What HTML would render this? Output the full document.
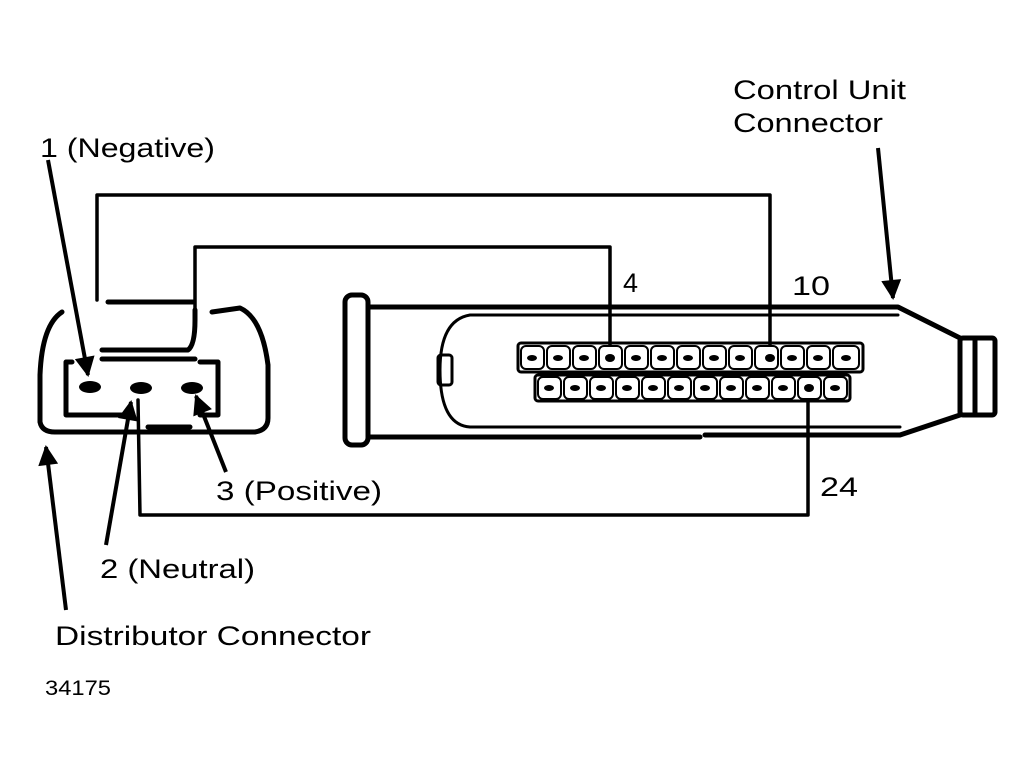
<!DOCTYPE html>
<html><head><style>html,body{margin:0;padding:0;background:#fff}svg{display:block}text{font-family:"Liberation Sans",sans-serif;fill:#000}</style></head>
<body>
<svg width="1036" height="766" viewBox="0 0 1036 766" xmlns="http://www.w3.org/2000/svg">
<defs><marker id="a" viewBox="0 0 10 10" refX="9" refY="5" markerWidth="6" markerHeight="5" orient="auto"><path d="M0,0L10,5L0,10z"/></marker></defs>
<g fill="none" stroke="#000" stroke-width="5" stroke-linecap="round" stroke-linejoin="round">
<path d="M62,312 Q42,325 40,375 L40,422 Q42,432 55,432 L255,432 Q268,430 268,418 L268,365 Q262,318 240,308 L212,312"/>
<path d="M108,302 L193,302"/>
<path d="M102,350 L188,350 Q195,345 195,320 L195,310"/>
<path d="M102,359 L195,359"/>
<path d="M72,362 L66,362 L66,415 L128,415"/>
<path d="M200,362 L218,362 L218,415 L200,415"/>
<path d="M148,427 L190,427"/>
<path d="M97,300 L97,195 L770,195 L770,348" stroke-width="3.5"/>
<path d="M195,310 L195,247 L610,247 L610,355" stroke-width="3.5"/>
<path d="M138,400 L140,515 L808,515 L808,392" stroke-width="3.5"/>
<rect x="345" y="295" width="23" height="150" rx="7"/>
<path d="M368,307 L898,307 L960,338"/>
<path d="M368,437 L700,437"/>
<path d="M705,435 L900,435 L960,415"/>
<rect x="960" y="338" width="35" height="77" rx="3"/>
<path d="M975,340 L975,413"/>
<path d="M470,315 L898,315 M470,315 Q440,320 440,370 Q440,425 470,427 L900,427" stroke-width="3"/>
<rect x="438" y="355" width="14" height="30" rx="3" stroke-width="3"/>
<rect x="518" y="343" width="345" height="29" rx="3" stroke-width="3"/>
<rect x="535" y="375" width="315" height="26" rx="3" stroke-width="3"/>
</g>
<g fill="#000">
<ellipse cx="90" cy="387" rx="11" ry="6"/><ellipse cx="141" cy="388" rx="11" ry="6"/><ellipse cx="192" cy="388" rx="11" ry="6"/>
</g>
<g fill="#fff" stroke="#000" stroke-width="2">
<rect x="521" y="346" width="23" height="23" rx="5"/><rect x="547" y="346" width="23" height="23" rx="5"/><rect x="573" y="346" width="23" height="23" rx="5"/><rect x="599" y="346" width="23" height="23" rx="5"/><rect x="625" y="346" width="23" height="23" rx="5"/><rect x="651" y="346" width="23" height="23" rx="5"/><rect x="677" y="346" width="23" height="23" rx="5"/><rect x="703" y="346" width="23" height="23" rx="5"/><rect x="729" y="346" width="23" height="23" rx="5"/><rect x="755" y="346" width="23" height="23" rx="5"/><rect x="781" y="346" width="23" height="23" rx="5"/><rect x="807" y="346" width="23" height="23" rx="5"/><rect x="833" y="346" width="26" height="23" rx="5"/>
<rect x="538" y="377" width="23" height="22" rx="5"/><rect x="564" y="377" width="23" height="22" rx="5"/><rect x="590" y="377" width="23" height="22" rx="5"/><rect x="616" y="377" width="23" height="22" rx="5"/><rect x="642" y="377" width="23" height="22" rx="5"/><rect x="668" y="377" width="23" height="22" rx="5"/><rect x="694" y="377" width="23" height="22" rx="5"/><rect x="720" y="377" width="23" height="22" rx="5"/><rect x="746" y="377" width="23" height="22" rx="5"/><rect x="772" y="377" width="23" height="22" rx="5"/><rect x="798" y="377" width="23" height="22" rx="5"/><rect x="824" y="377" width="23" height="22" rx="5"/>
</g>
<g fill="#000">
<ellipse cx="532" cy="358" rx="5" ry="3"/><ellipse cx="558" cy="358" rx="5" ry="3"/><ellipse cx="584" cy="358" rx="5" ry="3"/><ellipse cx="610" cy="358" rx="5" ry="4"/><ellipse cx="636" cy="358" rx="5" ry="3"/><ellipse cx="662" cy="358" rx="5" ry="3"/><ellipse cx="688" cy="358" rx="5" ry="3"/><ellipse cx="714" cy="358" rx="5" ry="3"/><ellipse cx="740" cy="358" rx="5" ry="3"/><ellipse cx="770" cy="358" rx="5" ry="4"/><ellipse cx="792" cy="358" rx="5" ry="3"/><ellipse cx="818" cy="358" rx="5" ry="3"/><ellipse cx="846" cy="358" rx="5" ry="3"/>
<ellipse cx="549" cy="388" rx="5" ry="3"/><ellipse cx="575" cy="388" rx="5" ry="3"/><ellipse cx="601" cy="388" rx="5" ry="3"/><ellipse cx="627" cy="388" rx="5" ry="3"/><ellipse cx="653" cy="388" rx="5" ry="3"/><ellipse cx="679" cy="388" rx="5" ry="3"/><ellipse cx="705" cy="388" rx="5" ry="3"/><ellipse cx="731" cy="388" rx="5" ry="3"/><ellipse cx="757" cy="388" rx="5" ry="3"/><ellipse cx="783" cy="388" rx="5" ry="3"/><ellipse cx="809" cy="388" rx="5" ry="4"/><ellipse cx="835" cy="388" rx="5" ry="3"/>
</g>
<g stroke="#000" stroke-width="4" fill="none" marker-end="url(#a)">
<path d="M48,160 L88,375"/>
<path d="M878,148 L893,298"/>
<path d="M66,610 L46,447"/>
<path d="M106,545 L131,402"/>
<path d="M226,472 L196,396"/>
</g>
<g font-size="27" lengthAdjust="spacingAndGlyphs">
<text x="40" y="157" textLength="175" lengthAdjust="spacingAndGlyphs">1 (Negative)</text>
<text x="733" y="99" textLength="173" lengthAdjust="spacingAndGlyphs">Control Unit</text>
<text x="733" y="132" textLength="150" lengthAdjust="spacingAndGlyphs">Connector</text>
<text x="623" y="292">4</text>
<text x="792" y="295" textLength="38" lengthAdjust="spacingAndGlyphs">10</text>
<text x="820" y="496" textLength="38" lengthAdjust="spacingAndGlyphs">24</text>
<text x="216" y="500" textLength="166" lengthAdjust="spacingAndGlyphs">3 (Positive)</text>
<text x="100" y="578" textLength="155" lengthAdjust="spacingAndGlyphs">2 (Neutral)</text>
<text x="55" y="645" textLength="316" lengthAdjust="spacingAndGlyphs">Distributor Connector</text>
<text x="45" y="695" font-size="21" textLength="66" lengthAdjust="spacingAndGlyphs">34175</text>
</g>
</svg>
</body></html>
